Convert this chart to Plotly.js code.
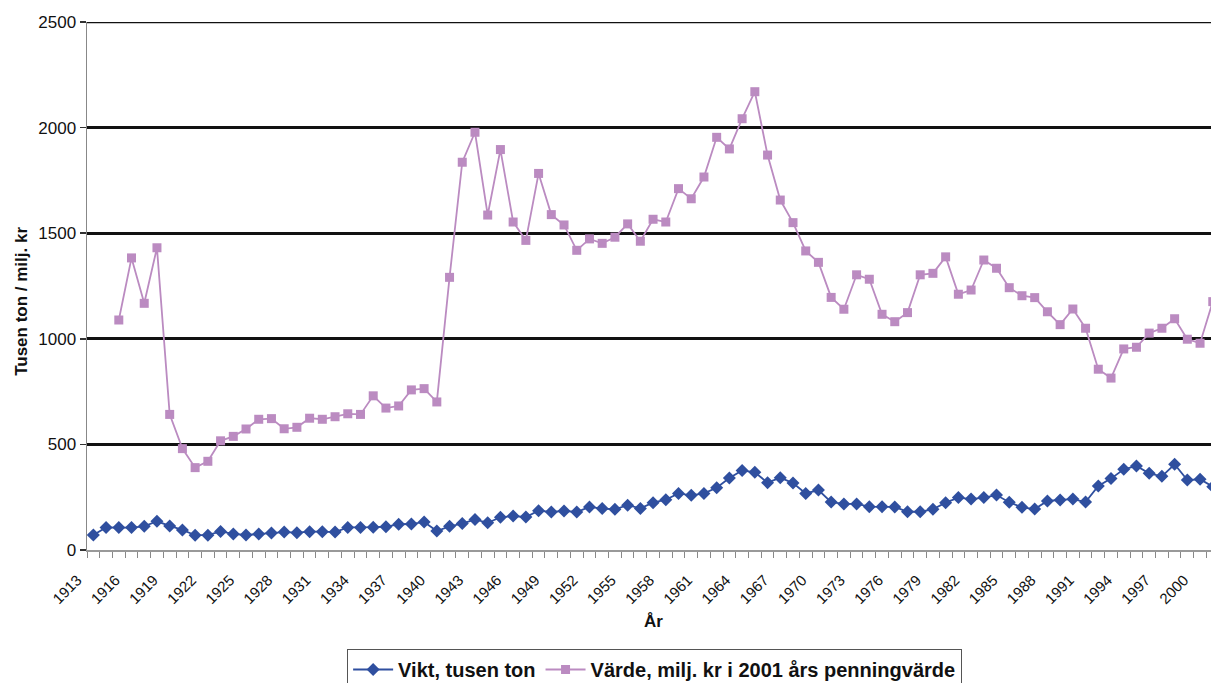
<!DOCTYPE html>
<html>
<head>
<meta charset="utf-8">
<script src="https://cdn.plot.ly/plotly-3.0.1.min.js"></script>
<style>html,body{margin:0;padding:0;background:#fff;overflow:hidden;}#chart{width:1211px;height:700px;}</style>
</head>
<body>
<div id="chart"></div>
<script>
var years = [1913,1914,1915,1916,1917,1918,1919,1920,1921,1922,
             1923,1924,1925,1926,1927,1928,1929,1930,1931,1932,
             1933,1934,1935,1936,1937,1938,1939,1940,1941,1942,
             1943,1944,1945,1946,1947,1948,1949,1950,1951,1952,
             1953,1954,1955,1956,1957,1958,1959,1960,1961,1962,
             1963,1964,1965,1966,1967,1968,1969,1970,1971,1972,
             1973,1974,1975,1976,1977,1978,1979,1980,1981,1982,
             1983,1984,1985,1986,1987,1988,1989,1990,1991,1992,
             1993,1994,1995,1996,1997,1998,1999,2000,2001];

var vikt = [71,107,106,106,112,136,114,95,70,70,
            88,76,71,76,80,85,82,87,87,85,
            107,106,108,110,122,123,133,90,112,125,
            145,129,155,161,156,186,180,185,180,204,
            196,193,212,197,224,238,268,259,268,295,
            341,377,368,319,342,317,268,284,227,218,
            218,205,205,204,181,181,193,224,248,241,
            248,260,226,202,194,232,237,241,227,303,
            338,382,398,363,349,406,331,335,300];

var varde = [null,null,1089,1383,1168,1431,642,480,390,420,
             517,538,573,619,622,574,581,624,619,631,
             645,642,730,672,682,758,764,701,1291,1836,
             1978,1586,1896,1553,1466,1783,1588,1539,1419,1473,
             1452,1481,1544,1462,1566,1553,1711,1663,1766,1954,
             1899,2042,2170,1870,1657,1550,1416,1362,1196,1140,
             1303,1282,1116,1081,1124,1303,1310,1388,1211,1231,
             1373,1334,1242,1204,1195,1128,1067,1141,1050,856,
             814,952,960,1027,1050,1095,998,979,1176];

var tickYears = [1913,1916,1919,1922,1925,1928,1931,1934,1937,1940,1943,1946,1949,1952,1955,1958,1961,1964,1967,1970,1973,1976,1979,1982,1985,1988,1991,1994,1997,2000];
var tickLabels = tickYears.map(String);
var yTicks = [0,500,1000,1500,2000,2500];

var seriesNames = ["Vikt, tusen ton", "Värde, milj. kr i 2001 års penningvärde"];
var yTitle = "Tusen ton / milj. kr";
var xTitle = "År";

var FONT = "Liberation Sans, Arial, sans-serif";
var blue = "#2f4f9f";
var pink = "#bb8bc1";

var traces = [
  {x: years, y: vikt, name: seriesNames[0], type: "scatter", mode: "lines+markers",
   line: {color: blue, width: 1.8},
   marker: {symbol: "diamond", size: 10, color: blue}},
  {x: years, y: varde, name: seriesNames[1], type: "scatter", mode: "lines+markers",
   line: {color: pink, width: 1.8},
   marker: {symbol: "square", size: 9, color: pink}, connectgaps: false}
];

var layout = {
  width: 1211, height: 700,
  margin: {l: 87, r: 0, t: 22, b: 150},
  paper_bgcolor: "#fff", plot_bgcolor: "#fff",
  font: {family: FONT, color: "#000"},
  showlegend: true,
  legend: {orientation: "h", x: 0.505, xanchor: "center", y: -0.1875, yanchor: "top",
           bordercolor: "#555", borderwidth: 1, bgcolor: "#fff",
           font: {family: FONT, size: 20, color: "#111", weight: "bold"},
           itemwidth: 40, tracegroupgap: 0},
  xaxis: {
    range: [1912.5, 2000.86], automargin: false,
    tickmode: "array", tickvals: tickYears, ticktext: tickLabels,
    tickangle: -45, ticks: "", ticklen: 0,
    ticklabelstandoff: 14, ticklabelshift: -16,
    tickfont: {family: FONT, size: 15, color: "#111"},
    showgrid: false, zeroline: false,
    showline: true, linecolor: "#999", linewidth: 1.5,
    minor: {tick0: 1912.5, dtick: 1, ticks: "outside", ticklen: 6, tickcolor: "#888", tickwidth: 1, showgrid: false}
  },
  yaxis: {
    range: [0, 2500], automargin: false, tickmode: "array", tickvals: yTicks,
    ticks: "outside", ticklen: 6, tickcolor: "#333", tickwidth: 1.5,
    tickfont: {family: FONT, size: 17, color: "#111"},
    showgrid: true, gridcolor: "#111", gridwidth: 2.6,
    zeroline: false, showline: true, linecolor: "#888", linewidth: 1.5
  },
  shapes: [
    {type: "line", xref: "paper", yref: "y", x0: 0, x1: 1, y0: 2500, y1: 2500,
     line: {color: "#111", width: 2.6}}
  ],
  annotations: [
    {text: yTitle, xref: "paper", yref: "paper", x: -0.0578, y: 0.47, textangle: -90,
     showarrow: false, xanchor: "center", yanchor: "middle",
     font: {family: FONT, size: 17, color: "#111", weight: "bold"}},
    {text: xTitle, xref: "paper", yref: "paper", x: 0.5044, y: -0.136,
     showarrow: false, xanchor: "center", yanchor: "middle",
     font: {family: FONT, size: 17, color: "#111", weight: "bold"}}
  ]
};

Plotly.newPlot("chart", traces, layout, {displayModeBar: false, staticPlot: true});
</script>
</body>
</html>
